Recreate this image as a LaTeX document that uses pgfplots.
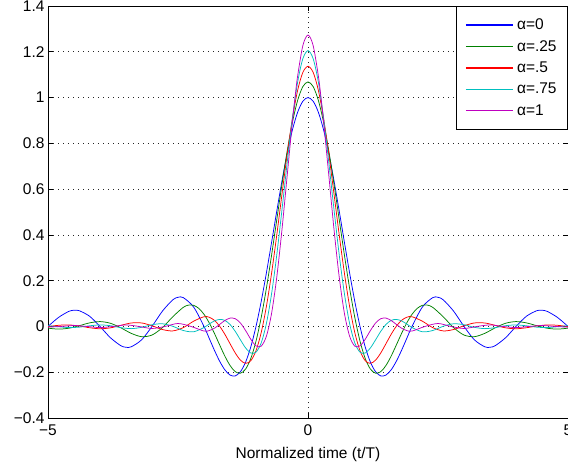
\documentclass[border=0pt]{standalone}
\usepackage{fontspec}
\setmainfont{Liberation Sans}
\usepackage{pgfplots}
\pgfplotsset{compat=1.18}
\definecolor{mblue}{rgb}{0,0,1}
\definecolor{mgreen}{rgb}{0,0.5,0}
\definecolor{mred}{rgb}{1,0,0}
\definecolor{mcyan}{rgb}{0,0.75,0.75}
\definecolor{mmag}{rgb}{0.75,0,0.75}
\newcommand{\ff}{\fontsize{15.5}{18}\selectfont}
\begin{document}
\begin{tikzpicture}[x=1pt,y=1pt]
\begin{axis}[
  at={(0,0)}, anchor=south west,
  scale only axis, width=520pt, height=412pt,
  xmin=-5, xmax=5, ymin=-0.4, ymax=1.4,
  xtick={-5,0,5}, xticklabels={−5,0,5},
  ytick={-0.4,-0.2,0,0.2,0.4,0.6,0.8,1,1.2,1.4},
  yticklabels={−0.4,−0.2,0,0.2,0.4,0.6,0.8,1,1.2,1.4},
  tick align=inside, major tick length=5pt,
  tick style={black, line width=0.6pt},
  grid=major,
  major grid style={black!85, dash pattern=on 0.8pt off 4.2pt, line width=0.6pt},
  axis line style={line width=0.8pt},
  ticklabel style={font=\ff},
  xticklabel style={yshift=-3.5pt},
  xlabel={Normalized time (t/T)},
  xlabel style={font=\ff, at={(rel axis cs:0.5,0)}, anchor=base, yshift=-40.3pt},
  legend style={at={(rel axis cs:1,1)}, anchor=north east, font=\ff, line width=0.8pt, inner xsep=9pt, inner ysep=10.4pt, row sep=5.2pt, /tikz/every odd column/.append style={column sep=1.5pt}},
  legend cell align=left,
  legend image code/.code={\draw[#1, line width=1.5pt] plot coordinates {(0pt,0pt) (47pt,0pt)};},
  every axis plot/.append style={line width=0.75pt},
]
\addplot[color=mblue, smooth] coordinates {
(-5.0,0)(-4.8,0.03898)(-4.6,0.06581)(-4.5,0.07074)(-4.4,0.06880)(-4.2,0.04455)(-4.0,0)
(-3.8,-0.04924)(-3.6,-0.08409)(-3.5,-0.09095)(-3.4,-0.08904)(-3.2,-0.05847)(-3.0,0)
(-2.8,0.06682)(-2.6,0.11643)(-2.5,0.12732)(-2.4,0.12614)(-2.2,0.08505)(-2.0,0)
(-1.9,-0.05177)(-1.8,-0.10394)(-1.7,-0.15148)(-1.6,-0.18921)(-1.5,-0.21221)(-1.4,-0.21624)
(-1.3,-0.19809)(-1.2,-0.15592)(-1.1,-0.08942)(-1.0,0)(-0.9,0.10929)(-0.8,0.23387)
(-0.7,0.36789)(-0.6,0.50455)(-0.5,0.63662)(-0.4,0.75683)(-0.3,0.85839)(-0.2,0.93549)(-0.1,0.98363)
(0,1)
(0.1,0.98363)(0.2,0.93549)(0.3,0.85839)(0.4,0.75683)(0.5,0.63662)(0.6,0.50455)(0.7,0.36789)
(0.8,0.23387)(0.9,0.10929)(1.0,0)(1.1,-0.08942)(1.2,-0.15592)(1.3,-0.19809)(1.4,-0.21624)
(1.5,-0.21221)(1.6,-0.18921)(1.7,-0.15148)(1.8,-0.10394)(1.9,-0.05177)(2.0,0)
(2.2,0.08505)(2.4,0.12614)(2.5,0.12732)(2.6,0.11643)(2.8,0.06682)(3.0,0)
(3.2,-0.05847)(3.4,-0.08904)(3.5,-0.09095)(3.6,-0.08409)(3.8,-0.04924)(4.0,0)
(4.2,0.04455)(4.4,0.06880)(4.5,0.07074)(4.6,0.06581)(4.8,0.03898)(5.0,0)
};
\addlegendentry{α=0}
\addplot[color=mgreen, smooth] coordinates {
(-5.0,-0.00750)(-4.8,-0.01158)(-4.6,-0.00777)(-4.4,0.00319)(-4.2,0.01559)(-4.0,0.02122)
(-3.8,0.01392)(-3.6,-0.00598)(-3.4,-0.03007)(-3.2,-0.04469)(-3.0,-0.03751)(-2.8,-0.00514)
(-2.6,0.04240)(-2.4,0.08325)(-2.3,0.09308)(-2.2,0.09219)(-2.1,0.07894)(-2.0,0.05305)
(-1.9,0.01574)(-1.8,-0.03014)(-1.7,-0.08027)(-1.6,-0.12909)(-1.5,-0.17030)(-1.4,-0.19741)
(-1.3,-0.20438)(-1.2,-0.18629)(-1.1,-0.13993)(-1.0,-0.06424)(-0.9,0.03937)(-0.8,0.16696)
(-0.7,0.31225)(-0.6,0.46705)(-0.5,0.62180)(-0.4,0.76642)(-0.3,0.89110)(-0.2,0.98710)(-0.1,1.04765)
(0,1.06831)
(0.1,1.04765)(0.2,0.98710)(0.3,0.89110)(0.4,0.76642)(0.5,0.62180)(0.6,0.46705)(0.7,0.31225)
(0.8,0.16696)(0.9,0.03937)(1.0,-0.06424)(1.1,-0.13993)(1.2,-0.18629)(1.3,-0.20438)
(1.4,-0.19741)(1.5,-0.17030)(1.6,-0.12909)(1.7,-0.08027)(1.8,-0.03014)(1.9,0.01574)
(2.0,0.05305)(2.1,0.07894)(2.2,0.09219)(2.3,0.09308)(2.4,0.08325)(2.6,0.04240)
(2.8,-0.00514)(3.0,-0.03751)(3.2,-0.04469)(3.4,-0.03007)(3.6,-0.00598)(3.8,0.01392)
(4.0,0.02122)(4.2,0.01559)(4.4,0.00319)(4.6,-0.00777)(4.8,-0.01158)(5.0,-0.00750)
};
\addlegendentry{α=.25}
\addplot[color=mred, smooth] coordinates {
(-5.0,-0.00064)(-4.8,0.00496)(-4.6,0.00657)(-4.4,0.00202)(-4.2,-0.00572)(-4.0,-0.01011)
(-3.8,-0.00614)(-3.6,0.00489)(-3.4,0.01506)(-3.2,0.01526)(-3.0,0.00303)(-2.8,-0.01340)
(-2.6,-0.01945)(-2.4,-0.00539)(-2.2,0.02282)(-2.0,0.04244)(-1.9,0.04026)(-1.8,0.02672)
(-1.7,0.00138)(-1.6,-0.03395)(-1.5,-0.07503)(-1.4,-0.11541)(-1.3,-0.14704)(-1.2,-0.16120)
(-1.1,-0.14970)(-1.0,-0.10610)(-0.9,-0.02692)(-0.8,0.08758)(-0.7,0.23293)(-0.6,0.40060)
(-0.5,0.57863)(-0.4,0.75284)(-0.3,0.90825)(-0.2,1.03096)(-0.1,1.10955)
(0,1.13662)
(0.1,1.10955)(0.2,1.03096)(0.3,0.90825)(0.4,0.75284)(0.5,0.57863)(0.6,0.40060)
(0.7,0.23293)(0.8,0.08758)(0.9,-0.02692)(1.0,-0.10610)(1.1,-0.14970)(1.2,-0.16120)
(1.3,-0.14704)(1.4,-0.11541)(1.5,-0.07503)(1.6,-0.03395)(1.7,0.00138)(1.8,0.02672)
(1.9,0.04026)(2.0,0.04244)(2.2,0.02282)(2.4,-0.00539)(2.6,-0.01945)(2.8,-0.01340)
(3.0,0.00303)(3.2,0.01526)(3.4,0.01506)(3.6,0.00489)(3.8,-0.00614)(4.0,-0.01011)
(4.2,-0.00572)(4.4,0.00202)(4.6,0.00657)(4.8,0.00496)(5.0,-0.00064)
};
\addlegendentry{α=.5}
\addplot[color=mcyan, smooth] coordinates {
(-5.0,0.00322)(-4.8,-0.00124)(-4.6,-0.00481)(-4.4,-0.00311)(-4.2,0.00282)(-4.0,0.00667)
(-3.8,0.00326)(-3.6,-0.00509)(-3.4,-0.00957)(-3.2,-0.00388)(-3.0,0.00750)(-2.8,0.01173)
(-2.6,0.00067)(-2.4,-0.01768)(-2.2,-0.02335)(-2.0,-0.00455)(-1.9,0.01054)(-1.8,0.02401)
(-1.7,0.03078)(-1.6,0.02647)(-1.5,0.00880)(-1.4,-0.02115)(-1.3,-0.05834)(-1.2,-0.09388)
(-1.1,-0.11614)(-1.0,-0.11254)(-0.9,-0.07196)(-0.8,0.01286)(-0.7,0.14327)(-0.6,0.31354)
(-0.5,0.51089)(-0.4,0.71680)(-0.3333,0.84802)(-0.3,0.90936)(-0.2,1.06640)(-0.1,1.16919)
(0,1.20493)
(0.1,1.16919)(0.2,1.06640)(0.3,0.90936)(0.3333,0.84802)(0.4,0.71680)(0.5,0.51089)
(0.6,0.31354)(0.7,0.14327)(0.8,0.01286)(0.9,-0.07196)(1.0,-0.11254)(1.1,-0.11614)
(1.2,-0.09388)(1.3,-0.05834)(1.4,-0.02115)(1.5,0.00880)(1.6,0.02647)(1.7,0.03078)
(1.8,0.02401)(1.9,0.01054)(2.0,-0.00455)(2.2,-0.02335)(2.4,-0.01768)(2.6,0.00067)
(2.8,0.01173)(3.0,0.00750)(3.2,-0.00388)(3.4,-0.00957)(3.6,-0.00509)(3.8,0.00326)
(4.0,0.00667)(4.2,0.00282)(4.4,-0.00311)(4.6,-0.00481)(4.8,-0.00124)(5.0,0.00322)
};
\addlegendentry{α=.75}
\addplot[color=mmag, smooth] coordinates {
(-5.0,-0.00319)(-4.75,0)(-4.5,0.00394)(-4.25,0)(-4.0,-0.00499)(-3.75,0)(-3.5,0.00653)
(-3.25,0)(-3.0,-0.00890)(-2.75,0)(-2.5,0.01286)(-2.25,0)(-2.0,-0.02021)(-1.9,-0.01815)
(-1.8,-0.00774)(-1.7,0.00870)(-1.6,0.02578)(-1.5,0.03638)(-1.4,0.03393)(-1.3,0.01511)
(-1.2,-0.01785)(-1.1,-0.05610)(-1.0,-0.08488)(-0.9,-0.08613)(-0.8,-0.04258)(-0.7,0.05752)
(-0.6,0.21640)(-0.5,0.42441)(-0.4,0.66030)(-0.3,0.89421)(-0.25,1.0)(-0.2,1.09294)(-0.1,1.22628)
(0,1.27324)
(0.1,1.22628)(0.2,1.09294)(0.25,1.0)(0.3,0.89421)(0.4,0.66030)(0.5,0.42441)(0.6,0.21640)
(0.7,0.05752)(0.8,-0.04258)(0.9,-0.08613)(1.0,-0.08488)(1.1,-0.05610)(1.2,-0.01785)
(1.3,0.01511)(1.4,0.03393)(1.5,0.03638)(1.6,0.02578)(1.7,0.00870)(1.8,-0.00774)
(1.9,-0.01815)(2.0,-0.02021)(2.25,0)(2.5,0.01286)(2.75,0)(3.0,-0.00890)(3.25,0)
(3.5,0.00653)(3.75,0)(4.0,-0.00499)(4.25,0)(4.5,0.00394)(4.75,0)(5.0,-0.00319)
};
\addlegendentry{α=1}
\end{axis}
\pgfresetboundingbox
\useasboundingbox (-48pt,-51pt) rectangle (520pt,418pt);
\end{tikzpicture}
\end{document}
